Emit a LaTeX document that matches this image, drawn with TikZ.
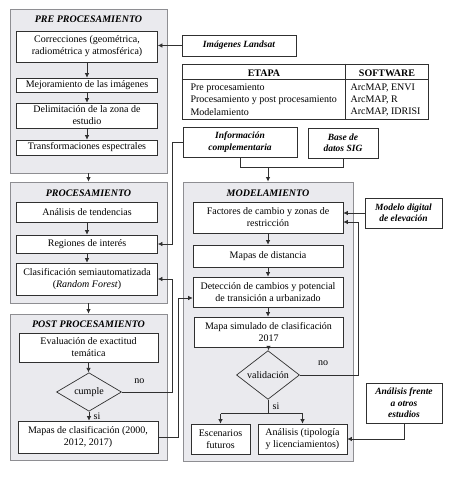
\documentclass[tikz,border=0pt]{standalone}
\usepackage{fontspec}
\setmainfont{Liberation Serif}
\usetikzlibrary{arrows.meta,shapes.geometric}
\definecolor{panelfill}{HTML}{EAEAEE}
\definecolor{paneledge}{HTML}{8E8E92}
\definecolor{lineDark}{HTML}{303030}

\begin{document}
\begin{tikzpicture}[x=1pt,y=-1pt,
  font=\fontsize{10}{12}\selectfont,
  panel/.style={draw=paneledge,fill=panelfill,line width=0.9pt,inner sep=0pt},
  stage/.style={font=\fontsize{10}{12}\selectfont\bfseries\itshape},
  procbox/.style={draw=lineDark,fill=white,line width=0.7pt,align=center,inner sep=0pt},
  extbox/.style={procbox,font=\fontsize{9.5}{11.5}\selectfont\bfseries\itshape},
  check/.style={diamond,draw=lineDark,fill=panelfill,line width=0.7pt,inner sep=0pt},
  link/.style={draw=lineDark,line width=0.7pt},
  flow/.style={link,-{Latex[length=4.5pt,width=4.5pt]}}]
  \useasboundingbox[fill=white] (0,0) rectangle (452,481);

  % etapas
  \node[panel,minimum width=157pt,minimum height=164pt] (pre) at (88.5,91) {};
  \node[panel,minimum width=157pt,minimum height=121pt] (proc) at (88.5,242.5) {};
  \node[panel,minimum width=157pt,minimum height=146pt] (post) at (88.5,387) {};
  \node[panel,minimum width=170pt,minimum height=279pt] (model) at (268,321.5) {};
  \node[stage] (pretit) at (88.5,19) {PRE PROCESAMIENTO};
  \node[stage] (proctit) at (88.5,193) {PROCESAMIENTO};
  \node[stage] (posttit) at (88.5,324) {POST PROCESAMIENTO};
  \node[stage] (modeltit) at (268,193) {MODELAMIENTO};

  % pre procesamiento
  \node[procbox,minimum width=141pt,minimum height=31pt] (corr) at (87,46.5) {Correcciones (geométrica,\\radiométrica y atmosférica)};
  \node[procbox,minimum width=141pt,minimum height=14pt] (mejo) at (87,85) {Mejoramiento de las imágenes};
  \node[procbox,minimum width=141pt,minimum height=25pt] (deli) at (87,115.5) {Delimitación de la zona de\\estudio};
  \node[procbox,minimum width=141pt,minimum height=15pt] (trans) at (87,147.5) {Transformaciones espectrales};

  % procesamiento
  \node[procbox,minimum width=141pt,minimum height=20pt] (anal) at (87,212) {Análisis de tendencias};
  \node[procbox,minimum width=141pt,minimum height=18pt] (regi) at (87,244) {Regiones de interés};
  \node[procbox,minimum width=141pt,minimum height=32pt] (clas) at (87,279) {Clasificación semiautomatizada\\(\textit{Random Forest})};

  % post procesamiento
  \node[procbox,minimum width=139pt,minimum height=29pt] (eval) at (88.5,347.5) {Evaluación de exactitud\\temática};
  \node[check,minimum width=65pt,minimum height=36pt] (cumple) at (89,392) {cumple};
  \node[procbox,minimum width=140pt,minimum height=32pt] (mapc) at (88,437) {Mapas de clasificación (2000,\\2012, 2017)};

  % modelamiento
  \node[procbox,minimum width=150pt,minimum height=31pt] (fact) at (268,217.5) {Factores de cambio y zonas de\\restricción};
  \node[procbox,minimum width=150pt,minimum height=22pt] (dist) at (268,256) {Mapas de distancia};
  \node[procbox,minimum width=150pt,minimum height=30pt] (dete) at (268,292) {Detección de cambios y potencial\\de transición a urbanizado};
  \node[procbox,minimum width=149pt,minimum height=30pt] (msim) at (268.5,332) {Mapa simulado de clasificación\\2017};
  \node[check,minimum width=63pt,minimum height=36pt] (vali) at (268,375) {validación};
  \node[procbox,minimum width=59pt,minimum height=30pt] (esc) at (220.5,439) {Escenarios\\futuros};
  \node[procbox,minimum width=89pt,minimum height=30pt] (anl) at (302.5,439) {Análisis (tipología\\y licenciamientos)};

  % insumos externos
  \node[extbox,minimum width=114pt,minimum height=21pt] (land) at (239,45.5) {Imágenes Landsat};
  \node[extbox,minimum width=114pt,minimum height=30pt] (info) at (240,142) {Información\\complementaria};
  \node[extbox,minimum width=70pt,minimum height=30pt] (base) at (343,143) {Base de\\datos SIG};
  \node[extbox,minimum width=77pt,minimum height=30pt] (mde) at (403.5,213) {Modelo digital\\de elevación};
  \node[extbox,minimum width=76pt,minimum height=40pt] (afro) at (404,403) {Análisis frente\\a otros\\estudios};

  % tabla de software
  \node[procbox,minimum width=246pt,minimum height=55pt] (tabla) at (305,91.5) {};
  \draw[link] (tabla.north west) ++(0,16) -- ++(246,0);
  \draw[link] (tabla.north west) ++(164,0) -- ++(0,55);
  \node[font=\bfseries] (etapa) at (264,73) {ETAPA};
  \node[font=\bfseries] (soft) at (387,73) {SOFTWARE};
  \foreach \fila/\prog [count=\i] in {Pre procesamiento/{ArcMAP, ENVI},
      Procesamiento y post procesamiento/{ArcMAP, R},
      Modelamiento/{ArcMAP, IDRISI}}{
    \node[anchor=west] (fila\i) at (187,76+12*\i) {\fila};
    \node[anchor=west] (prog\i) at (347,76+12*\i) {\prog};
  }

  % flujo
  \foreach \a/\b in {corr/mejo,mejo/deli,deli/trans,anal/regi,regi/clas,eval/cumple,
      fact/dist,dist/dete,dete/msim,msim/vali}
    \draw[flow] (\a.south) -- (\a.south |- \b.north);
  \draw[flow] (pre.south) -- (pre.south |- proc.north);
  \draw[flow] (proc.south) -- (proc.south |- post.north);
  \draw[flow] (land.west) -- (land.west -| corr.east);
  \draw[flow] (info.west) -- ++(-10,0) |- (regi.east);
  \draw[link] (info.south) -- ++(0,10) -| (base.south);
  \coordinate (junta) at (268,167);
  \draw[flow] (junta) -- (junta |- model.north);
  \draw[flow] (cumple.south) -- node[right=1pt] {si} (cumple.south |- mapc.north);
  \draw[flow] (cumple.east) -- node[pos=0.35,above=5pt] {no} ++(50,0) |- (clas.east);
  \draw[flow] (mapc.east) -- ++(20,0) |- ([yshift=-6pt]dete.west);
  \draw[flow] (mde.west) -- (mde.west -| fact.east);
  \draw[flow] (vali.east) -- node[pos=0.4,above=6pt] {no} ++(58,0) |- ([yshift=-4.5pt]fact.east);
  \draw[link] (vali.south) -- node[right=1pt] {si} ++(0,14) coordinate (rama);
  \draw[link] (esc.north |- rama) -- (anl.north |- rama);
  \draw[flow] (esc.north |- rama) -- (esc.north);
  \draw[flow] (anl.north |- rama) -- (anl.north);
  \draw[flow] (afro.south) |- (anl.east);
\end{tikzpicture}
\end{document}
